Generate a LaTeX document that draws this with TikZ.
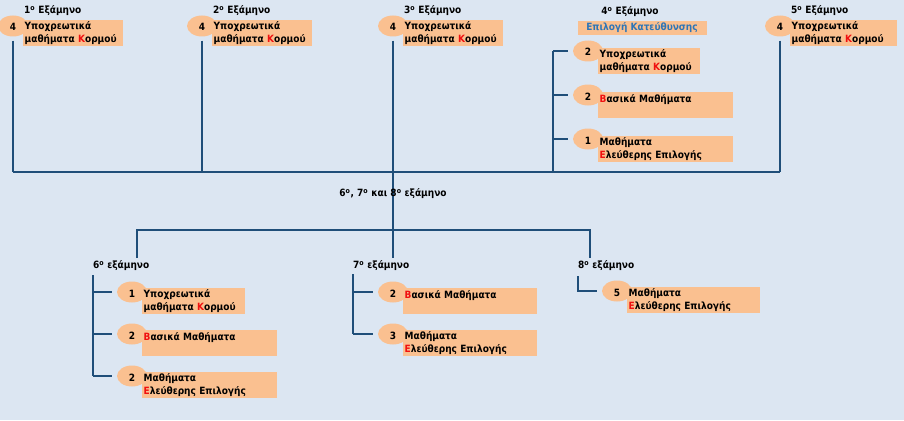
\documentclass[tikz,border=0pt]{standalone}
\usepackage{fontspec}
\setmainfont{DejaVu Sans Condensed}
\usetikzlibrary{shapes.geometric}
\definecolor{paper}{HTML}{DCE6F2}
\definecolor{peach}{HTML}{FAC090}
\definecolor{wire}{HTML}{1F4E79}
\definecolor{optblue}{HTML}{2E75B6}
\definecolor{initred}{HTML}{F01010}
\newcommand{\initial}[1]{\textcolor{initred}{#1}}
\newcommand{\ypo}{Υποχρεωτικά\\μαθήματα \initial{Κ}ορμού}
\newcommand{\vas}{\initial{Β}ασικά Μαθήματα\\~}
\newcommand{\ele}{Μαθήματα\\\initial{Ε}λεύθερης Επιλογής}
\tikzset{
  num/.style={ellipse,fill=peach,minimum width=30pt,minimum height=21pt,inner sep=0pt,text height=10pt,text depth=0pt},
  course/.style={fill=peach,anchor=north west,minimum height=26pt,text width=#1,align=left,inner xsep=1.5pt,inner ysep=0pt},
  semlabel/.style={anchor=west,inner sep=0pt},
  wire/.style={draw=wire,line width=1.5pt}
}
\begin{document}
\begin{tikzpicture}[x=1pt,y=-1pt,every node/.style={font=\bfseries\fontsize{10}{13}\selectfont}]
\useasboundingbox (0,0) rectangle (904,420);
\fill[paper] (0,0) rectangle (904,420);
\coordinate (bus) at (0,172);
\coordinate (low) at (0,230);
\coordinate (d6) at (137,258);
\coordinate (d8) at (590,258);
% semesters 1,2,3,5
\foreach \x/\s/\w in {23/1/97pt,212/2/97pt,403/3/97pt,790/5/104pt}{
  \node[semlabel] (lab\s) at (\x+1,11) {\s\textsuperscript{ο} Εξάμηνο};
  \node[num] (n\s) at (\x-10,26) {4};
  \node[course=\w] (c\s) at (\x,20) {\ypo};
}
% semester 4
\node (lab4) at (630,12) {4\textsuperscript{ο} Εξάμηνο};
\node[fill=peach,minimum width=129pt,minimum height=14pt,inner sep=0pt,text=optblue] (dir4) at (642,28) {Επιλογή Κατεύθυνσης};
\foreach \i/\y/\k/\txt/\w in {1/52/2/\ypo/99pt,2/96/2/\vas/132pt,3/140/1/\ele/132pt}{
  \node[num] (n4\i) at (588,\y-1) {\k};
  \node[course=\w] (c4\i) at (598,\y-4) {\txt};
}
\coordinate (br4) at (553,51);
\draw[wire] (br4) -- (br4 |- bus);
\foreach \i in {1,2,3} \draw[wire] (br4 |- n4\i) -- ([xshift=-5pt]n4\i.west);
% top bus
\foreach \s in {1,2,3,5} \draw[wire] ([yshift=-4pt]n\s.south) -- (n\s |- bus);
\draw[wire] (n1 |- bus) -- (n5 |- bus);
\draw[wire] (n3 |- bus) -- (n3 |- d6);
\draw[wire] (d6) |- (d8 |- low) -- (d8);
\node (mid) at (393,194) {6\textsuperscript{ο}, 7\textsuperscript{ο} και 8\textsuperscript{ο} εξάμηνο};
% semester 6
\node[semlabel] (lab6) at (93,266) {6\textsuperscript{ο} εξάμηνο};
\foreach \i/\y/\k/\txt/\w in {1/293/1/\ypo/100pt,2/335/2/\vas/132pt,3/377/2/\ele/132pt}{
  \node[num] (n6\i) at (132,\y-1) {\k};
  \node[course=\w] (c6\i) at (142,\y-5) {\txt};
}
\coordinate (br6) at (93,275);
\draw[wire] (br6) -- (br6 |- n63);
\foreach \i in {1,2,3} \draw[wire] (br6 |- n6\i) -- ([xshift=-5pt]n6\i.west);
% semester 7
\node[semlabel] (lab7) at (353,266) {7\textsuperscript{ο} εξάμηνο};
\foreach \i/\y/\k/\txt in {1/293/2/\vas,2/335/3/\ele}{
  \node[num] (n7\i) at (393,\y-1) {\k};
  \node[course=131pt] (c7\i) at (403,\y-5) {\txt};
}
\coordinate (br7) at (353,274);
\draw[wire] (br7) -- (br7 |- n72);
\foreach \i in {1,2} \draw[wire] (br7 |- n7\i) -- ([xshift=-5pt]n7\i.west);
% semester 8
\node[semlabel] (lab8) at (578,266) {8\textsuperscript{ο} εξάμηνο};
\node[num] (n81) at (617,291) {5};
\node[course=130pt] (c81) at (627,287) {\ele};
\coordinate (br8) at (578,276);
\draw[wire] (br8) |- ([xshift=-5pt]n81.west);
\end{tikzpicture}
\end{document}
